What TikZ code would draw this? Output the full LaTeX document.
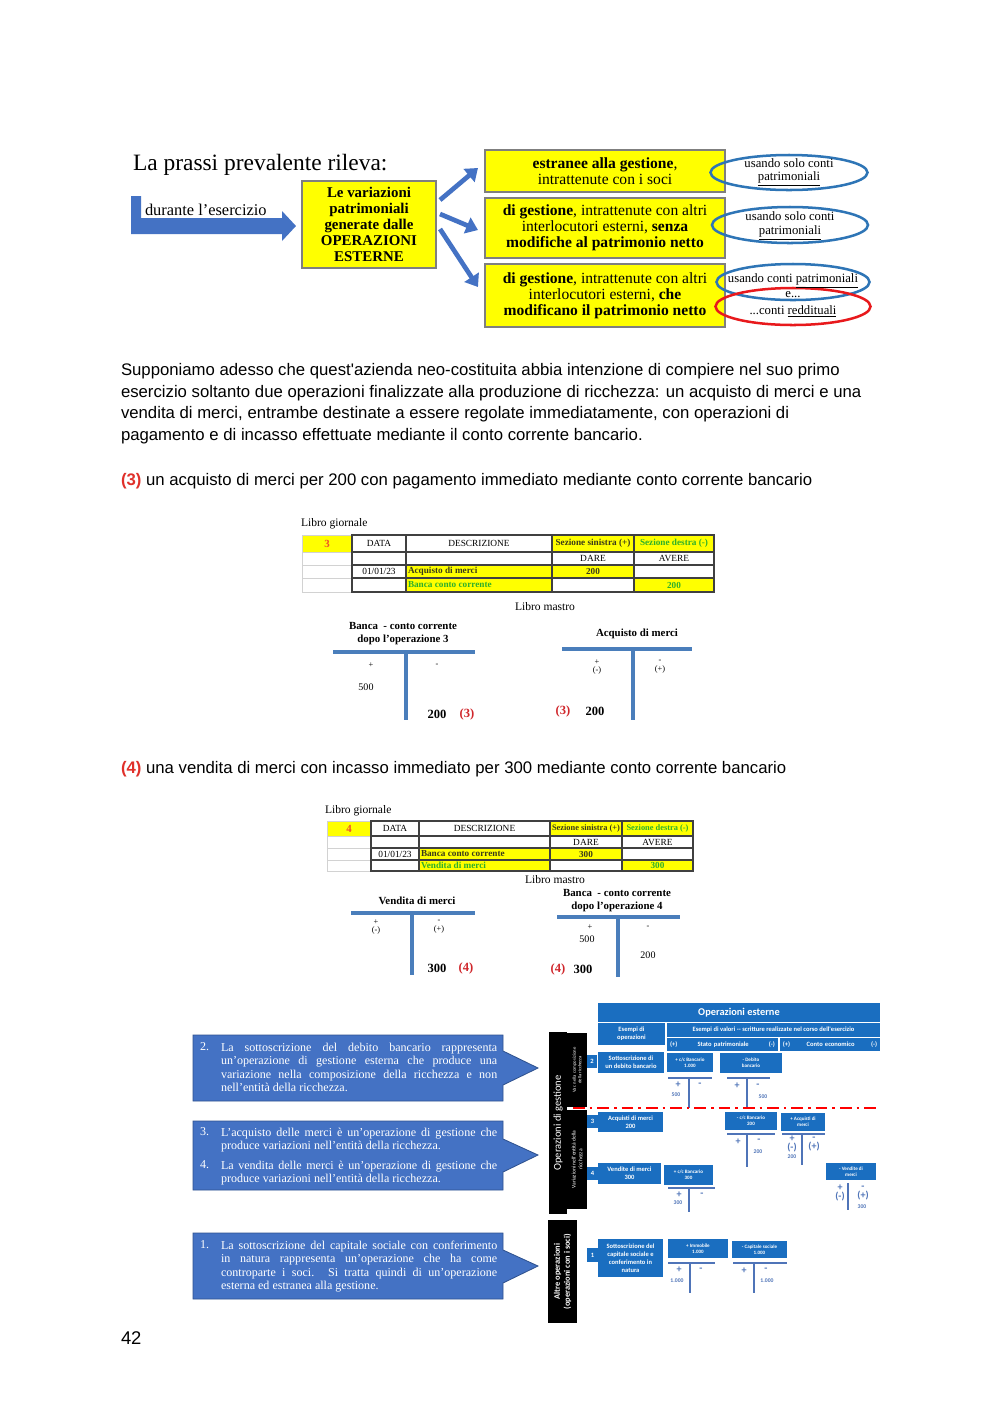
\documentclass[tikz,border=0pt]{standalone}
\usepackage{fontspec}
\setmainfont{Liberation Serif}
\newfontfamily\arialfont{Liberation Sans}
\newfontfamily\calfont{Carlito}
\usetikzlibrary{arrows.meta, shapes.geometric, positioning, calc}
\definecolor{ArrBlue}  {HTML}{4472C4}
\definecolor{ArrEdge}  {HTML}{2F528F}
\definecolor{BoxYellow}{HTML}{FFFF00}
\definecolor{BoxEdge}  {HTML}{7F7F7F}
\definecolor{OvalBlue} {HTML}{2E75B6}
\definecolor{OvalRed}  {HTML}{E8191C}
\definecolor{TxtRed}   {HTML}{E0302A}
\definecolor{NumRed}   {HTML}{D0262B}
\definecolor{LedOrange}{HTML}{F0502A}
\definecolor{LedGreen} {HTML}{2DB02A}
\definecolor{LedDark}  {HTML}{3A3A1A}
\definecolor{LedLine}  {HTML}{404040}
\definecolor{TBar}     {HTML}{4A7EBB}
\definecolor{TabBlue}  {HTML}{1A6EC0}
\definecolor{TabLine}  {HTML}{4F74B8}
\newcommand{\fs}[2]{\fontsize{#1}{#2}\selectfont}

\begin{document}
\begin{tikzpicture}[x=0.021cm, y=-0.021cm,
  every node/.style={inner sep=0pt, outer sep=0pt},
  ybox/.style={draw=BoxEdge, fill=BoxYellow, line width=0.8pt, align=center,
               font=\fs{9.3}{9.7}},
  oval/.style={ellipse, draw=OvalBlue, line width=1.5pt},
  ovaltxt/.style={font=\fs{7.6}{8}, align=center},
  flowarr/.style={-{Triangle[length=7pt,width=10pt]}, line width=2.8pt, ArrBlue},
  body/.style={font=\arialfont\fs{10}{13.1}, align=left},
  ledtxt/.style={font=\fs{5.6}{6.5}},
  ledbold/.style={font=\bfseries\fs{5.5}{6.5}, text=LedDark},
  ledgrid/.style={draw=LedLine, line width=0.7pt},
  tline/.style={TBar, line width=2.3pt},
  ttitle/.style={font=\bfseries\fs{6.5}{7.6}, align=center},
  tsign/.style={font=\fs{5}{5.2}, align=center},
  tnum/.style={font=\fs{6}{7}},
  tbig/.style={font=\bfseries\fs{7.5}{8}},
  tref/.style={font=\bfseries\fs{7.5}{8}, text=NumRed},
  callarrow/.style={fill=ArrBlue, draw=ArrEdge, line width=0.5pt},
  calltxt/.style={text=white, font=\fs{7.2}{8}, text width=5.8cm,
                  align=justify, anchor=north west},
  callnum/.style={text=white, font=\fs{7.2}{8}, anchor=north west},
  tb/.style={fill=TabBlue, text=white, font=\calfont\bfseries\fs{3.9}{4.7},
             align=center},
  tbs/.style={tb, font=\calfont\bfseries\fs{3}{3.8}},
  blackbar/.style={fill=black, text=white, rotate=90, align=center},
  tabT/.style={TabLine, line width=1.2pt},
  tabsign/.style={text=TabLine, font=\calfont\bfseries\fs{6}{5}, align=center},
  tabnum/.style={text=TabLine, font=\calfont\bfseries\fs{3.4}{4}},
]
  \fill[white] (0,0) rectangle (1000,1413);

  % ---- schema iniziale
  \node[anchor=base west, font=\fs{14}{16}] (title) at (133,170)
    {La prassi prevalente rileva:};

  \node[ybox, minimum width=2.814cm, minimum height=1.827cm,
        font=\bfseries\fs{8.9}{9.5}] (var) at (369,224.5)
    {Le variazioni\\patrimoniali\\generate dalle\\OPERAZIONI\\ESTERNE};
  \node[ybox, minimum width=5.04cm, minimum height=0.882cm] (est) at (605,171)
    {\textbf{estranee alla gestione},\\intrattenute con i soci};
  \node[ybox, minimum width=5.04cm, minimum height=1.26cm] (gesA) at (605,228)
    {\textbf{di gestione}, intrattenute con altri\\interlocutori esterni,
     \textbf{senza}\\\textbf{modifiche al patrimonio netto}};
  \node[ybox, minimum width=5.04cm, minimum height=1.323cm] (gesB) at (605,295.5)
    {\textbf{di gestione}, intrattenute con altri\\interlocutori esterni,
     \textbf{che}\\\textbf{modificano il patrimonio netto}};

  % freccia a gomito
  \coordinate (lstart) at (131,196);
  \fill[ArrBlue] (lstart) -- (141,196) -- (141,218) -- (282,218) -- (282,211)
    -- ($(var.west)+(-6,1.5)$) -- (282,241) -- (282,234) -- (131,234) -- cycle;
  \node[anchor=west, font=\fs{9.8}{11}] (durante) at (145,210)
    {durante l'esercizio};

  \foreach \b/\sa/\sb in {est/-24.5/-3, gesA/-10.5/2, gesB/4.5/-8.5}
    \draw[flowarr] ($(var.east)+(4,\sa)$) -- ($(\b.west)+(-7,\sb)$);

  % ovali
  \node[oval, minimum width=3.297cm, minimum height=0.735cm] (ov1) at (789,172.5) {};
  \node[ovaltxt] (ov1t) at (789,172.5) {usando solo conti\\\underline{patrimoniali}};
  \node[oval, minimum width=3.276cm, minimum height=0.756cm] (ov2) at (790,225) {};
  \node[ovaltxt] (ov2t) at (790,226) {usando solo conti\\\underline{patrimoniali}};
  \node[oval, minimum width=3.213cm, minimum height=0.756cm] (ov3) at (793,282) {};
  \node[oval, draw=OvalRed, minimum width=3.255cm, minimum height=0.777cm]
    (ov4) at (793,306.5) {};
  \node[ovaltxt] (ov3t) at (793,281) {usando conti \underline{patrimoniali}};
  \node[ovaltxt] (ov3e) at (793,294.5) {e...};
  \node[ovaltxt] (ov4t) at (793,311.5) {...conti \underline{reddituali}};

  % ---- testo
  \node[body, anchor=north west] (intro) at (121,363)
    {Supponiamo adesso che quest'azienda neo-costituita abbia intenzione di compiere nel suo primo\\
     esercizio soltanto due operazioni finalizzate alla produzione di ricchezza: un acquisto di merci e una\\
     vendita di merci, entrambe destinate a essere regolate immediatamente, con operazioni di\\
     pagamento e di incasso effettuate mediante il conto corrente bancario.};
  \node[body, anchor=base west] (op3) at (121,485)
    {\textcolor{TxtRed}{\textbf{(3)}} un acquisto di merci per 200 con pagamento immediato mediante conto corrente bancario};

  % ---- libro giornale 3
  \node[anchor=base west, font=\fs{6.9}{8}] (lg3) at (301,526) {Libro giornale};
  \fill[BoxYellow] (302,535) rectangle (352,552) (552,535) rectangle (714,552)
    (406,565) rectangle (634,578) (406,578) rectangle (552,592)
    (634,578) rectangle (714,592);
  \draw[gray!35, line width=0.4pt] (302,535) rectangle (352,592)
    (302,552) -- (352,552) (302,565) -- (352,565) (302,578) -- (352,578);
  \draw[ledgrid] (352,535) rectangle (714,592);
  \foreach \x in {406,552,634} \draw[ledgrid] (\x,535) -- (\x,592);
  \foreach \y in {552,565,578} \draw[ledgrid] (352,\y) -- (714,\y);
  \node[font=\bfseries\fs{6.5}{7}, text=LedOrange] (l3n) at (327,543.5) {3};
  \node[ledtxt] (l3data) at (379,543.5) {DATA};
  \node[ledtxt] (l3desc) at (479,543.5) {DESCRIZIONE};
  \node[ledbold] (l3sin) at (593,543.5) {Sezione sinistra (+)};
  \node[ledbold, text=LedGreen] (l3des) at (674,543.5) {Sezione destra (-)};
  \node[ledtxt] (l3dare) at (593,558.5) {DARE};
  \node[ledtxt] (l3avere) at (674,558.5) {AVERE};
  \node[ledtxt] (l3date) at (379,571.5) {01/01/23};
  \node[ledbold, anchor=west] (l3acq) at (408,571.5) {Acquisto di merci};
  \node[ledbold] (l3dv) at (593,571.5) {200};
  \node[ledbold, anchor=west, text=LedGreen] (l3bank) at (408,585) {Banca conto corrente};
  \node[ledbold, text=LedGreen] (l3av) at (674,585) {200};
  \node[font=\fs{6.9}{8}] (lm3) at (545,607) {Libro mastro};

  % ---- mastrini 3
  \node[ttitle] (bank3) at (403,633.5) {Banca\ \ - conto corrente\\dopo l'operazione 3};
  \draw[tline] (333,652) -- (475,652);
  \draw[tline] (406,652) -- (406,720);
  \node[tsign] (bank3p) at (371,665) {+};
  \node[tsign] (bank3m) at (437,665) {-};
  \node[tnum] (bank3a) at (366,687) {500};
  \node[tbig] (bank3b) at (437,714) {200};
  \node[tref] (bank3r) at (467,714) {(3)};

  \node[ttitle] (acq3) at (637,634) {Acquisto di merci};
  \draw[tline] (562,649) -- (692,649);
  \draw[tline] (633,649) -- (633,720);
  \node[tsign] (acq3p) at (597,667) {+\\(-)};
  \node[tsign] (acq3m) at (660,667) {-\\(+)};
  \node[tref] (acq3r) at (563,711) {(3)};
  \node[tbig] (acq3b) at (595,711) {200};

  % ---- testo 4
  \node[body, anchor=base west] (op4) at (121,773)
    {\textcolor{TxtRed}{\textbf{(4)}} una vendita di merci con incasso immediato per 300 mediante conto corrente bancario};

  % ---- libro giornale 4
  \node[anchor=base west, font=\fs{6.9}{8}] (lg4) at (325,813) {Libro giornale};
  \fill[BoxYellow] (327,821) rectangle (371,836) (550,821) rectangle (693,836)
    (419,848) rectangle (622,860) (419,860) rectangle (550,871)
    (622,860) rectangle (693,871);
  \draw[gray!35, line width=0.4pt] (327,821) rectangle (371,871)
    (327,836) -- (371,836) (327,848) -- (371,848) (327,860) -- (371,860);
  \draw[ledgrid] (371,821) rectangle (693,871);
  \foreach \x in {419,550,622} \draw[ledgrid] (\x,821) -- (\x,871);
  \foreach \y in {836,848,860} \draw[ledgrid] (371,\y) -- (693,\y);
  \node[font=\bfseries\fs{6.5}{7}, text=LedOrange] (l4n) at (349,828.5) {4};
  \node[ledtxt] (l4data) at (395,828.5) {DATA};
  \node[ledtxt] (l4desc) at (484.5,828.5) {DESCRIZIONE};
  \node[ledbold, font=\bfseries\fs{5}{6}] (l4sin) at (586,828.5) {Sezione sinistra (+)};
  \node[ledbold, font=\bfseries\fs{5}{6}, text=LedGreen] (l4des) at (657.5,828.5) {Sezione destra (-)};
  \node[ledtxt] (l4dare) at (586,842) {DARE};
  \node[ledtxt] (l4avere) at (657.5,842) {AVERE};
  \node[ledtxt] (l4date) at (395,854) {01/01/23};
  \node[ledbold, anchor=west] (l4bank) at (421,854) {Banca conto corrente};
  \node[ledbold] (l4dv) at (586,854) {300};
  \node[ledbold, anchor=west, text=LedGreen] (l4ven) at (421,865.5) {Vendita di merci};
  \node[ledbold, text=LedGreen] (l4av) at (657.5,865.5) {300};
  \node[font=\fs{6.9}{8}] (lm4) at (555,880) {Libro mastro};

  % ---- mastrini 4
  \node[ttitle] (ven4) at (417,901) {Vendita di merci};
  \draw[tline] (351,913) -- (475,913);
  \draw[tline] (412,913) -- (412,975);
  \node[tsign] (ven4p) at (376,927) {+\\(-)};
  \node[tsign] (ven4m) at (439,927) {-\\(+)};
  \node[tbig] (ven4b) at (437,968) {300};
  \node[tref] (ven4r) at (466,968) {(4)};

  \node[ttitle] (bank4) at (617,900.5) {Banca\ \ - conto corrente\\dopo l'operazione 4};
  \draw[tline] (557,917) -- (680,917);
  \draw[tline] (618,917) -- (618,977);
  \node[tsign] (bank4p) at (590,927) {+};
  \node[tnum] (bank4a) at (587,939) {500};
  \node[tsign] (bank4m) at (648,927) {-};
  \node[tnum] (bank4c) at (648,955) {200};
  \node[tref] (bank4r) at (558,969) {(4)};
  \node[tbig] (bank4b) at (583,969) {300};

  % ---- frecce descrittive
  \fill[callarrow] (193,1035) -- (503,1035) -- (503,1051) -- (538,1068)
    -- (503,1085) -- (503,1101) -- (193,1101) -- cycle;
  \node[callnum] (c2n) at (200,1043) {2.};
  \node[calltxt] (c2t) at (221,1043)
    {La sottoscrizione del debito bancario rappresenta\linebreak
     un'operazione di gestione esterna che produce una\linebreak
     variazione nella composizione della ricchezza e non\linebreak
     nell'entità della ricchezza.};

  \fill[callarrow] (193,1121) -- (503,1121) -- (503,1139) -- (538,1155)
    -- (503,1172) -- (503,1190) -- (193,1190) -- cycle;
  \node[callnum] (c3n) at (200,1128) {3.};
  \node[calltxt] (c3t) at (221,1128)
    {L'acquisto delle merci è un'operazione di gestione che\linebreak
     produce variazioni nell'entità della ricchezza.};
  \node[callnum] (c4n) at (200,1161) {4.};
  \node[calltxt] (c4t) at (221,1161)
    {La vendita delle merci è un'operazione di gestione che\linebreak
     produce variazioni nell'entità della ricchezza.};

  \fill[callarrow] (193,1233) -- (503,1233) -- (503,1250) -- (538,1266)
    -- (503,1283) -- (503,1299) -- (193,1299) -- cycle;
  \node[callnum] (c1n) at (200,1241) {1.};
  \node[calltxt] (c1t) at (221,1241)
    {La sottoscrizione del capitale sociale con conferimento\linebreak
     in natura rappresenta un'operazione che ha come\linebreak
     controparte i soci. Si tratta quindi di un'operazione\linebreak
     esterna ed estranea alla gestione.};

  % ---- barre nere
  \node[blackbar, minimum width=3.822cm, minimum height=0.378cm,
        font=\calfont\fs{6.3}{7}] (gest) at (558,1123) {Operazioni di gestione};
  \node[blackbar, minimum width=1.554cm, minimum height=0.42cm,
        font=\calfont\fs{2.8}{3.4}] (var1) at (577,1070)
    {Var. nella composizione\\della ricchezza};
  \node[blackbar, minimum width=2.079cm, minimum height=0.42cm,
        font=\calfont\fs{3.3}{4}] (var2) at (577,1159.5)
    {Variazioni nell'entità della\\ricchezza};
  \node[blackbar, minimum width=2.163cm, minimum height=0.609cm,
        font=\calfont\bfseries\fs{5}{6}] (altre) at (562.5,1271.5)
    {Altre operazioni\\(operazioni con i soci)};

  % ---- tabella operazioni esterne
  \node[tb, minimum width=5.922cm, minimum height=0.399cm,
        font=\calfont\bfseries\fs{6.2}{7}] (head) at (739,1012.5) {Operazioni esterne};
  \node[tb, minimum width=1.407cm, minimum height=0.462cm] (esop) at (631.5,1034)
    {Esempi di\\operazioni};
  \node[tb, minimum width=4.473cm, minimum height=0.294cm] (esval) at (773.5,1030)
    {Esempi di valori -- scritture realizzate nel corso dell'esercizio};
  \node[tb, minimum width=2.331cm, minimum height=0.273cm, text width=2.2cm]
    (sp) at (722.5,1044.5) {(+)\hfill Stato patrimoniale\hfill (-)};
  \node[tb, minimum width=2.1cm, minimum height=0.273cm, text width=1.98cm]
    (ce) at (830,1044.5) {(+)\hfill Conto economico\hfill (-)};

  % operazione 2
  \node[tb, minimum width=0.21cm, minimum height=0.273cm] (n2) at (592,1061.5) {2};
  \node[tb, minimum width=1.386cm, minimum height=0.441cm] (op2) at (631,1062.5)
    {Sottoscrizione di\\un debito bancario};
  \node[tbs, minimum width=0.966cm, minimum height=0.399cm] (cc2) at (690,1062.5)
    {+ c/c Bancario\\1.000};
  \node[tbs, minimum width=1.302cm, minimum height=0.42cm] (deb2) at (751,1063)
    {- Debito\\bancario};
  \draw[tabT] (668,1078) -- (712,1078) (689,1078) -- (689,1108);
  \node[tabsign] (cc2p) at (678,1085) {+};
  \node[tabsign] (cc2m) at (700,1085) {-};
  \node[tabnum] (cc2v) at (676,1095) {500};
  \draw[tabT] (727,1078) -- (770,1078) (747,1078) -- (747,1108);
  \node[tabsign] (deb2p) at (737,1086) {+};
  \node[tabsign] (deb2m) at (758,1086) {-};
  \node[tabnum] (deb2v) at (763,1097) {500};

  \draw[red, line width=1.3pt, dash pattern=on 7pt off 3pt on 1.5pt off 3pt]
    (573,1108) -- (880,1108);

  % operazione 3
  \node[tb, minimum width=0.231cm, minimum height=0.273cm] (n3) at (592.5,1121.5) {3};
  \node[tb, minimum width=1.365cm, minimum height=0.42cm] (op3t) at (630.5,1122)
    {Acquisti di merci\\200};
  \node[tbs, minimum width=1.092cm, minimum height=0.378cm] (cc3) at (751,1121)
    {- c/c Bancario\\200};
  \node[tbs, minimum width=0.924cm, minimum height=0.378cm] (acq3t) at (803,1122)
    {+ Acquisti di\\merci};
  \draw[tabT] (727,1134) -- (775,1134) (747,1134) -- (747,1167);
  \node[tabsign] (cc3p) at (738,1142) {+};
  \node[tabsign] (cc3m) at (759,1141) {-};
  \node[tabnum] (cc3v) at (758,1152) {200};
  \draw[tabT] (782,1134) -- (825,1134) (802,1134) -- (802,1165);
  \node[tabsign] (acq3p2) at (792,1144) {+\\(-)};
  \node[tabnum] (acq3v) at (792,1157) {200};
  \node[tabsign] (acq3m2) at (814,1144) {-\\(+)};

  % operazione 4
  \node[tb, minimum width=0.231cm, minimum height=0.273cm] (n4) at (592.5,1173.5) {4};
  \node[tb, minimum width=1.323cm, minimum height=0.441cm] (op4t) at (629.5,1173.5)
    {Vendite di merci\\300};
  \node[tbs, minimum width=1.029cm, minimum height=0.42cm] (cc4) at (688.5,1175)
    {+ c/c Bancario\\300};
  \draw[tabT] (668,1188) -- (715,1188) (689,1188) -- (689,1212);
  \node[tabsign] (cc4p) at (679,1195) {+};
  \node[tabsign] (cc4m) at (702,1195) {-};
  \node[tabnum] (cc4v) at (678,1203) {300};
  \node[tbs, minimum width=1.05cm, minimum height=0.357cm] (ven4t) at (851,1171.5)
    {- Vendite di\\merci};
  \draw[tabT] (848,1183) -- (848,1210);
  \node[tabsign] (ven4p2) at (840,1193) {+\\(-)};
  \node[tabsign] (ven4m2) at (863,1193) {-\\(+)};
  \node[tabnum] (ven4v) at (862,1207) {300};

  % operazione 1
  \node[tb, minimum width=0.231cm, minimum height=0.294cm] (n1) at (592.5,1255) {1};
  \node[tb, minimum width=1.365cm, minimum height=0.798cm] (op1) at (630.5,1258)
    {Sottoscrizione del\\capitale sociale e\\conferimento in\\natura};
  \node[tbs, minimum width=1.26cm, minimum height=0.399cm] (imm1) at (698,1248.5)
    {+ Immobile\\1.000};
  \node[tbs, minimum width=1.155cm, minimum height=0.357cm] (cap1) at (759.5,1249.5)
    {- Capitale sociale\\1.000};
  \draw[tabT] (668,1263) -- (715,1263) (690,1263) -- (690,1293);
  \node[tabsign] (imm1p) at (679,1270) {+};
  \node[tabsign] (imm1m) at (701,1270) {-};
  \node[tabnum] (imm1v) at (677,1281) {1.000};
  \draw[tabT] (733,1263) -- (787,1263) (754,1263) -- (754,1293);
  \node[tabsign] (cap1p) at (744,1271) {+};
  \node[tabsign] (cap1m) at (766,1270) {-};
  \node[tabnum] (cap1v) at (767,1281) {1.000};

  % numero di pagina
  \node[anchor=base west, font=\arialfont\fs{11}{13}] (page) at (121,1344) {42};
\end{tikzpicture}
\end{document}
